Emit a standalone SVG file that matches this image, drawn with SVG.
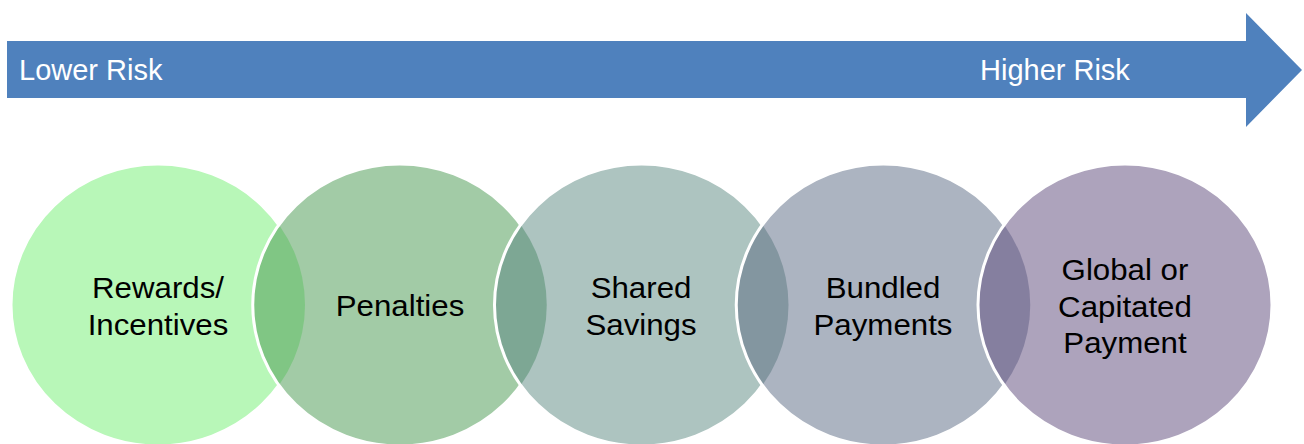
<svg xmlns="http://www.w3.org/2000/svg" width="1304" height="444" viewBox="0 0 1304 444">
<style>
  .lbl { font-family: "Liberation Sans", Arial, sans-serif; font-size: 29.5px; fill: #000; text-anchor: middle; }
  .arrowlbl { font-family: "Liberation Sans", Arial, sans-serif; font-size: 29px; fill: #fff; }
  .ring { fill: none; stroke: #fff; stroke-width: 3; }
</style>
<defs>
  <clipPath id="c1"><ellipse cx="158" cy="305" rx="147" ry="141"/></clipPath>
  <clipPath id="c2"><ellipse cx="399.75" cy="305" rx="147" ry="141"/></clipPath>
  <clipPath id="c3"><ellipse cx="641.5" cy="305" rx="147" ry="141"/></clipPath>
  <clipPath id="c4"><ellipse cx="883.25" cy="305" rx="147" ry="141"/></clipPath>
</defs>
<rect width="1304" height="444" fill="#fff"/>

<g id="risk-arrow">
  <path d="M7,41 H1246 V13 L1302,70 L1246,127 V98 H7 Z" fill="#4F81BD"/>
  <text class="arrowlbl" x="19" y="80">Lower Risk</text>
  <text class="arrowlbl" x="980" y="80">Higher Risk</text>
</g>

<g id="node-rewards">
  <ellipse cx="158" cy="305" rx="147" ry="141" fill="#B8F7B8"/>
  <ellipse class="ring" cx="158" cy="305" rx="147" ry="141"/>
  <g transform="translate(158,0) scale(1.06,1)">
    <text class="lbl" x="0" y="298">Rewards/</text>
    <text class="lbl" x="0" y="335">Incentives</text>
  </g>
</g>

<g id="node-penalties">
  <ellipse cx="399.75" cy="305" rx="147" ry="141" fill="#A2CBA6"/>
  <ellipse cx="399.75" cy="305" rx="147" ry="141" fill="#80C684" clip-path="url(#c1)"/>
  <ellipse class="ring" cx="399.75" cy="305" rx="147" ry="141"/>
  <g transform="translate(400,0) scale(1.06,1)">
    <text class="lbl" x="0" y="316">Penalties</text>
  </g>
</g>

<g id="node-shared-savings">
  <ellipse cx="641.5" cy="305" rx="147" ry="141" fill="#ADC4C0"/>
  <ellipse cx="641.5" cy="305" rx="147" ry="141" fill="#7DA794" clip-path="url(#c2)"/>
  <ellipse class="ring" cx="641.5" cy="305" rx="147" ry="141"/>
  <g transform="translate(641,0) scale(1.06,1)">
    <text class="lbl" x="0" y="298">Shared</text>
    <text class="lbl" x="0" y="335">Savings</text>
  </g>
</g>

<g id="node-bundled-payments">
  <ellipse cx="883.25" cy="305" rx="147" ry="141" fill="#ACB4C1"/>
  <ellipse cx="883.25" cy="305" rx="147" ry="141" fill="#8396A0" clip-path="url(#c3)"/>
  <ellipse class="ring" cx="883.25" cy="305" rx="147" ry="141"/>
  <g transform="translate(883,0) scale(1.06,1)">
    <text class="lbl" x="0" y="298">Bundled</text>
    <text class="lbl" x="0" y="335">Payments</text>
  </g>
</g>

<g id="node-global-payment">
  <ellipse cx="1125" cy="305" rx="147" ry="141" fill="#ADA3BC"/>
  <ellipse cx="1125" cy="305" rx="147" ry="141" fill="#857F9F" clip-path="url(#c4)"/>
  <ellipse class="ring" cx="1125" cy="305" rx="147" ry="141"/>
  <g transform="translate(1125,0) scale(1.06,1)">
    <text class="lbl" x="0" y="280">Global or</text>
    <text class="lbl" x="0" y="317">Capitated</text>
    <text class="lbl" x="0" y="353">Payment</text>
  </g>
</g>

<g id="connectors"></g>
</svg>
